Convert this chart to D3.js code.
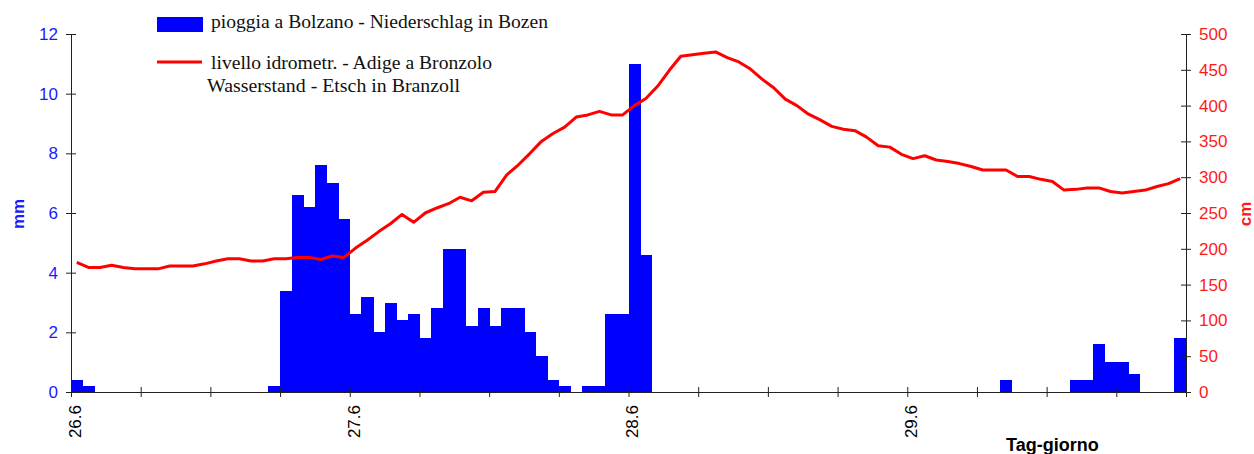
<!DOCTYPE html>
<html><head><meta charset="utf-8">
<script src="https://cdn.jsdelivr.net/npm/d3@7"></script>
<style>body{margin:0;background:#fff} svg{display:block}</style>
</head><body><svg id="c" width="1254" height="454"></svg>
<script>
// ---- data ----
const dayLabels = ["26.6", "27.6", "28.6", "29.6"];
const hoursPerDay = 24;
const tickStepHours = 6;
const mmTicks = [0, 2, 4, 6, 8, 10, 12];
const cmTicks = [0, 50, 100, 150, 200, 250, 300, 350, 400, 450, 500];
// hourly rainfall in Bolzano (mm)
const rain = [
  0.4, 0.2, 0, 0, 0, 0, 0, 0, 0, 0, 0, 0, 0, 0, 0, 0, 0, 0.2, 3.4, 6.6, 6.2, 7.6, 7.0, 5.8,
  2.6, 3.2, 2.0, 3.0, 2.4, 2.6, 1.8, 2.8, 4.8, 4.8, 2.2, 2.8, 2.2, 2.8, 2.8, 2.0, 1.2, 0.4, 0.2, 0, 0.2, 0.2, 2.6, 2.6,
  11.0, 4.6, 0, 0, 0, 0, 0, 0, 0, 0, 0, 0, 0, 0, 0, 0, 0, 0, 0, 0, 0, 0, 0, 0,
  0, 0, 0, 0, 0, 0, 0, 0, 0.4, 0, 0, 0, 0, 0, 0.4, 0.4, 1.6, 1.0, 1.0, 0.6, 0, 0, 0, 1.8
];
// hourly water level of the Adige at Bronzolo (cm)
const level = [
  181, 174, 174, 177, 174, 172, 172, 172, 176, 176, 176, 179, 183, 186, 186, 183, 183, 186, 186, 188, 188, 185, 190, 188,
  201, 212, 224, 235, 248, 237, 250, 257, 263, 272, 267, 279, 280, 303, 317, 333, 350, 361, 370, 384, 387, 392, 387, 387,
  400, 410, 427, 449, 469, 471, 473, 475, 467, 461, 451, 437, 425, 409, 400, 388, 380, 371, 367, 365, 356, 344, 342, 332,
  326, 330, 324, 322, 319, 315, 310, 310, 310, 301, 301, 297, 294, 282, 283, 285, 285, 280, 278, 280, 282, 287, 291, 298
];
const legendTexts = [
  "pioggia a Bolzano - Niederschlag in Bozen",
  "livello idrometr. - Adige a Bronzolo",
  "Wasserstand - Etsch in Branzoll"
];

// ---- chart ----
const m = {left: 71, right: 1186, top: 34, bottom: 392};
const svg = d3.select("#c");
const sans = "'Liberation Sans', Arial, sans-serif";
const serif = "'Liberation Serif', 'Times New Roman', serif";

const x = d3.scaleBand().domain(d3.range(rain.length)).range([m.left, m.right]).padding(0);
const xl = d3.scaleLinear().domain([0, rain.length]).range([m.left, m.right]);
const yL = d3.scaleLinear().domain([0, 12]).range([m.bottom, m.top]);
const yR = d3.scaleLinear().domain([0, 500]).range([m.bottom, m.top]);

// bars
svg.append("g").attr("shape-rendering", "crispEdges")
  .selectAll("rect").data(rain).join("rect")
  .attr("x", (d, i) => x(i))
  .attr("width", x.bandwidth() + 0.6)
  .attr("y", d => yL(d))
  .attr("height", d => yL(0) - yL(d))
  .attr("fill", "#0000ff");

// line
svg.append("path").datum(level)
  .attr("fill", "none").attr("stroke", "#ff0000").attr("stroke-width", 3)
  .attr("stroke-linejoin", "round")
  .attr("d", d3.line().x((d, i) => x(i) + x.bandwidth() / 2).y(d => yR(d)));

// left axis
const gL = svg.append("g").attr("transform", `translate(${m.left},0)`)
  .call(d3.axisLeft(yL).tickValues(mmTicks).tickSize(5).tickSizeOuter(0).tickPadding(8));
gL.selectAll(".tick line").attr("x1", 5).attr("x2", -5).attr("stroke", "#222");
gL.select(".domain").attr("stroke", "#222");
gL.selectAll("text").attr("fill", "#1a1aff").style("font-family", sans).style("font-size", "17px");

// right axis
const gR = svg.append("g").attr("transform", `translate(${m.right},0)`)
  .call(d3.axisRight(yR).tickValues(cmTicks).tickSize(5).tickSizeOuter(0).tickPadding(8));
gR.selectAll(".tick line").attr("x1", -5).attr("x2", 5).attr("stroke", "#222");
gR.select(".domain").attr("stroke", "#222");
gR.selectAll("text").attr("fill", "#ff1a1a").style("font-family", sans).style("font-size", "17px");

// bottom axis
const gB = svg.append("g").attr("transform", `translate(0,${m.bottom})`)
  .call(d3.axisBottom(xl).tickValues(d3.range(0, rain.length + 1, tickStepHours)).tickSize(5).tickSizeOuter(0)
    .tickFormat(d => (d % hoursPerDay === 0 && d / hoursPerDay < dayLabels.length) ? dayLabels[d / hoursPerDay] : ""));
gB.selectAll(".tick line").attr("y1", -5).attr("y2", 5).attr("stroke", "#222");
gB.select(".domain").attr("stroke", "#222");
gB.selectAll("text")
  .attr("transform", "rotate(-90)").attr("text-anchor", "end")
  .attr("x", -13).attr("y", 0).attr("dy", "0.55em")
  .attr("fill", "#000").style("font-family", sans).style("font-size", "17px");

// axis titles
svg.append("text").attr("transform", "translate(24,214) rotate(-90)").attr("text-anchor", "middle")
  .style("font", `bold 17px ${sans}`).attr("fill", "#1a1aff").text("mm");
svg.append("text").attr("transform", "translate(1251,214) rotate(-90)").attr("text-anchor", "middle")
  .style("font", `bold 17px ${sans}`).attr("fill", "#ff1a1a").text("cm");
svg.append("text").attr("x", 1006).attr("y", 451)
  .style("font", `bold 18px ${sans}`).attr("fill", "#000").text("Tag-giorno");

// legend
svg.append("rect").attr("x", 157).attr("y", 17).attr("width", 46).attr("height", 15).attr("fill", "#0000ff");
svg.append("line").attr("x1", 157).attr("x2", 202).attr("y1", 62).attr("y2", 62)
  .attr("stroke", "#ff0000").attr("stroke-width", 3);
const lg = [[211, 28, 337], [211, 69, 281], [207, 92, 253]];
legendTexts.forEach((t, i) => {
  svg.append("text").attr("x", lg[i][0]).attr("y", lg[i][1])
    .attr("textLength", lg[i][2]).attr("lengthAdjust", "spacingAndGlyphs")
    .style("font", `18px ${serif}`).attr("fill", "#111").text(t);
});
</script></body></html>
